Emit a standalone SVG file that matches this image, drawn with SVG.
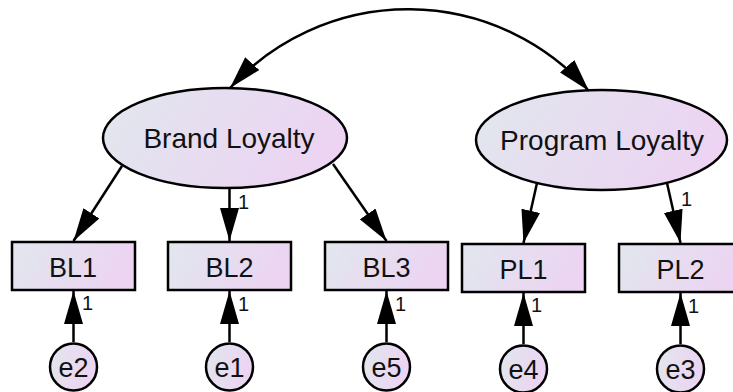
<svg xmlns="http://www.w3.org/2000/svg" width="733" height="392" viewBox="0 0 733 392">
  <defs>
    <linearGradient id="fillGrad" x1="0" y1="0" x2="1" y2="0.25">
      <stop offset="0" stop-color="#e1e7ee"/>
      <stop offset="1" stop-color="#ecd4f2"/>
    </linearGradient>
    <marker id="head" viewBox="0 0 33 19" refX="33" refY="9.5" markerWidth="33" markerHeight="19" markerUnits="userSpaceOnUse" orient="auto-start-reverse">
      <path d="M0,0 L33,9.5 L0,19 z" fill="#000"/>
    </marker>
    <style>
      .shape { fill: url(#fillGrad); stroke: #000; stroke-width: 2.5; }
      .lbl { font-family: "Liberation Sans", Arial, sans-serif; fill: #111; text-anchor: middle; }
      .latent { font-size: 28px; }
      .obs { font-size: 27px; }
      .err { font-size: 27px; }
      .wt { font-family: "Liberation Sans", Arial, sans-serif; font-size: 20px; fill: #111; }
      .conn { fill: none; stroke: #000; stroke-width: 2.5; marker-end: url(#head); }
    </style>
  </defs>
  <rect width="733" height="392" fill="#fff"/>

  <!-- latent factors -->
  <g id="brand-loyalty">
    <ellipse class="shape" cx="225" cy="138" rx="122" ry="50"/>
    <text class="lbl latent" x="229" y="148">Brand Loyalty</text>
  </g>
  <g id="program-loyalty">
    <ellipse class="shape" cx="601.5" cy="140" rx="125.5" ry="50"/>
    <text class="lbl latent" x="602" y="150">Program Loyalty</text>
  </g>

  <!-- observed indicators -->
  <g id="BL1">
    <rect class="shape" x="12" y="242" width="123" height="48"/>
    <text class="lbl obs" x="73" y="276.5">BL1</text>
  </g>
  <g id="BL2">
    <rect class="shape" x="168" y="242" width="123" height="48"/>
    <text class="lbl obs" x="229.5" y="276.5">BL2</text>
  </g>
  <g id="BL3">
    <rect class="shape" x="325" y="242" width="123" height="48"/>
    <text class="lbl obs" x="386.5" y="276.5">BL3</text>
  </g>
  <g id="PL1">
    <rect class="shape" x="462" y="244" width="123" height="48"/>
    <text class="lbl obs" x="523.5" y="278.5">PL1</text>
  </g>
  <g id="PL2">
    <rect class="shape" x="619" y="244" width="123" height="48"/>
    <text class="lbl obs" x="680.5" y="278.5">PL2</text>
  </g>

  <!-- error terms -->
  <g id="e2">
    <circle class="shape" cx="73.5" cy="367" r="23.5"/>
    <text class="lbl err" x="73.5" y="377">e2</text>
  </g>
  <g id="e1">
    <circle class="shape" cx="229.5" cy="367" r="23.5"/>
    <text class="lbl err" x="229.5" y="377">e1</text>
  </g>
  <g id="e5">
    <circle class="shape" cx="386.5" cy="367" r="23.5"/>
    <text class="lbl err" x="386.5" y="377">e5</text>
  </g>
  <g id="e4">
    <circle class="shape" cx="523.5" cy="369" r="23.5"/>
    <text class="lbl err" x="523.5" y="379">e4</text>
  </g>
  <g id="e3">
    <circle class="shape" cx="680.5" cy="369" r="23.5"/>
    <text class="lbl err" x="680.5" y="379">e3</text>
  </g>

  <!-- paths -->
  <g id="connectors">
    <path class="conn" style="marker-start:url(#head)" d="M230,88 A241,241 0 0 1 589,91"/>
    <path class="conn" d="M122,166 L73.5,241"/>
    <path class="conn" d="M229.5,188 L229.5,241"/>
    <path class="conn" d="M333,164 L386.5,241"/>
    <path class="conn" d="M537,183 L523.5,243"/>
    <path class="conn" d="M667,183 L680.5,243"/>
    <path class="conn" d="M73.5,342 L73.5,291"/>
    <path class="conn" d="M229.5,342 L229.5,291"/>
    <path class="conn" d="M386.5,342 L386.5,291"/>
    <path class="conn" d="M523.5,344 L523.5,293"/>
    <path class="conn" d="M680.5,344 L680.5,293"/>
  </g>

  <!-- fixed weights -->
  <g id="weights">
    <text class="wt" x="238" y="209">1</text>
    <text class="wt" x="681" y="206">1</text>
    <text class="wt" x="82" y="310">1</text>
    <text class="wt" x="238" y="311">1</text>
    <text class="wt" x="395" y="311">1</text>
    <text class="wt" x="531" y="312">1</text>
    <text class="wt" x="688" y="313">1</text>
  </g>
</svg>
